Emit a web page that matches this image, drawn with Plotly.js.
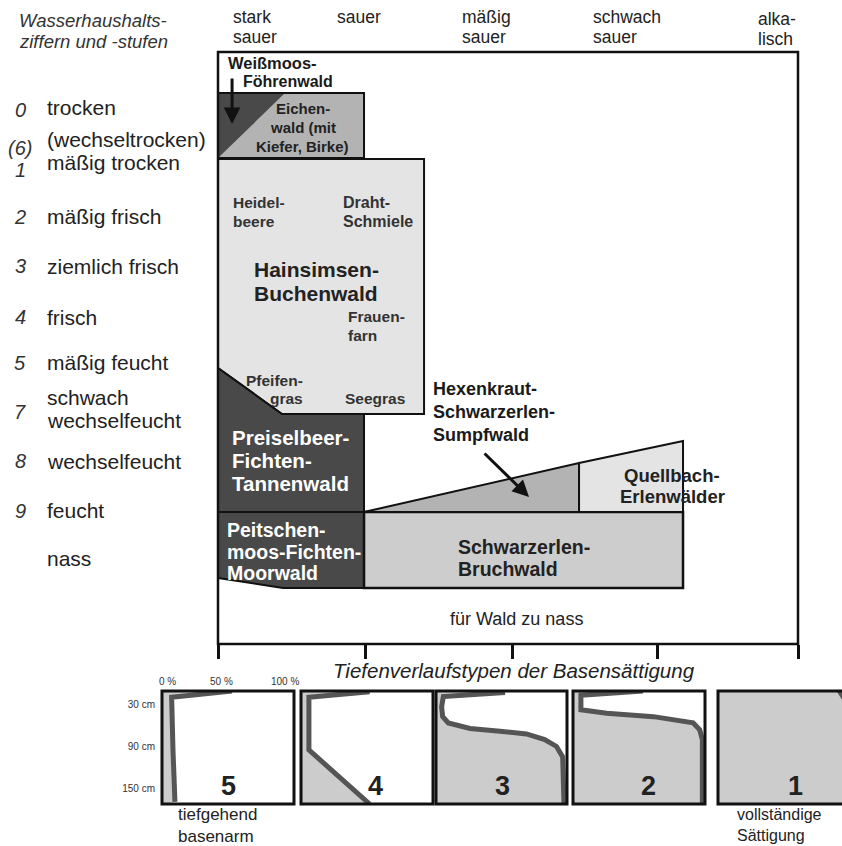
<!DOCTYPE html>
<html>
<head>
<meta charset="utf-8">
<script src="https://cdn.plot.ly/plotly-3.0.1.min.js"></script>
<style>html,body{margin:0;padding:0;background:#fff;}#chart{width:842px;height:846px;}</style>
</head>
<body>
<div id="chart"></div>
<script>
// ---------------- DATA ----------------
// x: Säurestufe (0 = stark sauer ... 4 = alkalisch), y: Wasserhaushaltsstufe (rows, 0 = trocken)
const phLabels = ["stark<br>sauer", "sauer", "mäßig<br>sauer", "schwach<br>sauer", "alka-<br>lisch"];
const phTicks = [0, 1.02, 2.03, 3.03, 4];

const waterNumbers = ["0", "(6)", "1", "2", "3", "4", "5", "7", "8", "9", ""];
const waterLabels = ["trocken", "(wechseltrocken)", "mäßig trocken", "mäßig frisch", "ziemlich frisch",
  "frisch", "mäßig feucht", "schwach<br>wechselfeucht", "wechselfeucht", "feucht", "nass"];
const waterLabelY = [0, 0.64, 1.1, 2.18, 3.16, 4.18, 5.08, 6.02, 7.06, 8.04, 9.0];
const waterNumberY = [0.04, 0.8, 1.24, 2.18, 3.16, 4.18, 5.1, 6.08, 7.06, 8.06, 9.0];

// forest community polygons (x = Säurestufe, y = Wasserstufe)
const eichenX = [0, 1.007, 1.007, 0];          const eichenY = [-0.30, -0.30, 1.00, 1.00];
const weissmoosX = [0, 0.462, 0];             const weissmoosY = [-0.30, -0.30, 1.00];
const hainsimsenX = [0, 1.421, 1.421, 0.441, 0]; const hainsimsenY = [1.02, 1.02, 6.12, 6.12, 5.20];
const preiselX = [0, 0.441, 1.007, 1.007, 0];    const preiselY = [5.20, 6.12, 6.12, 8.08, 8.08];
const peitschenX = [0, 1.007, 1.007, 0.448, 0];  const peitschenY = [8.08, 8.08, 9.60, 9.60, 9.40];
const bruchX = [1.007, 3.207, 3.207, 1.007];     const bruchY = [8.08, 8.08, 9.60, 9.60];
const hexenX = [1.007, 2.490, 2.490];            const hexenY = [8.08, 7.10, 8.08];
const quellX = [2.490, 3.207, 3.207, 2.490];     const quellY = [7.10, 6.66, 8.08, 8.08];

// Basensättigung (%) über Tiefe (cm), Typen 5..1
const typeNames = ["5", "4", "3", "2", "1"];
const sat5 = [53, 7.3, 8.3, 9.8];           const depth5 = [10, 19, 94, 170];
const sat4 = [52, 6, 6, 52];                const depth4 = [11, 19, 95, 173];
const sat3 = [52.7, 5.6, 4.3, 5.1, 9.4, 26, 48.9, 69, 83, 92, 96.7, 97.7];
const depth3 = [12, 18, 33, 47, 56, 64, 68, 72, 80, 90, 105, 172];
const sat2 = [53, 6, 6, 25.5, 61, 78.5, 91, 96, 98, 98];
const depth2 = [10, 16, 37, 42, 47, 52, 56, 66, 80, 172];
const sat1 = [92, 97, 97];                  const depth1 = [10, 25, 173];
const depthTicks = [30, 90, 150];
const depthTickText = ["30 cm", "90 cm", "150 cm"];

// ---------------- STYLE / LAYOUT ----------------
const W = 842, H = 846;
const FONT = "Liberation Sans, Arial, Helvetica, sans-serif";
const dark = "#494949", mid = "#b3b3b3", light = "#e4e4e4", bruchCol = "#cdcdcd", panelFill = "#cccccc";
const fx = p => p / W;
const fy = p => 1 - p / H;
const Y_UNIT_PX = 50; // one Wasserstufe row in pixels

function poly(xs, ys, fill, lw) {
  return {type: "scatter", mode: "lines", x: xs.concat([xs[0]]), y: ys.concat([ys[0]]),
    fill: "toself", fillcolor: fill, line: {color: lw > 0 ? "#111" : fill, width: lw},
    hoverinfo: "skip", showlegend: false, xaxis: "x", yaxis: "y"};
}
const traces = [
  poly(hainsimsenX, hainsimsenY, light, 2),
  poly(preiselX, preiselY, dark, 2),
  poly(peitschenX, peitschenY, dark, 2),
  poly(bruchX, bruchY, bruchCol, 2.5),
  poly(hexenX, hexenY, mid, 2),
  poly(quellX, quellY, light, 2),
  poly(eichenX, eichenY, mid, 0),
  poly(weissmoosX, weissmoosY, dark, 0),
  {type: "scatter", mode: "lines", x: eichenX.concat([eichenX[0]]), y: eichenY.concat([eichenY[0]]),
   line: {color: "#111", width: 2}, hoverinfo: "skip", showlegend: false, xaxis: "x", yaxis: "y"}
];

const panels = [
  {sat: sat5, depth: depth5, box: [162, 294]},
  {sat: sat4, depth: depth4, box: [301, 433]},
  {sat: sat3, depth: depth3, box: [436, 567]},
  {sat: sat2, depth: depth2, box: [573, 705]},
  {sat: sat1, depth: depth1, box: [718, 842]}
];
const panelTop = 691, panelBottom = 804;
const layout = {
  width: W, height: H, margin: {l: 0, r: 0, t: 0, b: 0},
  paper_bgcolor: "#fff", plot_bgcolor: "rgba(0,0,0,0)", showlegend: false,
  font: {family: FONT, color: "#222"},
  xaxis: {domain: [fx(218), fx(798)], range: [0, 4], anchor: "y", showgrid: false, zeroline: false,
    showticklabels: false, ticks: "outside", tickvals: phTicks, ticklen: 14, tickwidth: 3,
    tickcolor: "#111", fixedrange: true},
  yaxis: {domain: [fy(644), fy(52)], range: [10.72, -1.12], anchor: "x", showgrid: false,
    zeroline: false, showticklabels: false, ticks: "", fixedrange: true},
  shapes: [], annotations: []
};
layout.shapes.push({type: "rect", xref: "x domain", yref: "y domain", x0: 0, x1: 1, y0: 0, y1: 1,
  line: {color: "#111", width: 2.5}, layer: "above"});

panels.forEach((p, i) => {
  const n = i + 2, xa = "x" + n, ya = "y" + n;
  const last = i === panels.length - 1;
  const rangeMax = last ? 94 : 100;
  layout["xaxis" + n] = {domain: [fx(p.box[0]), fx(p.box[1])], range: [0, rangeMax], anchor: ya,
    showgrid: false, zeroline: false, showticklabels: false, ticks: "", fixedrange: true};
  layout["yaxis" + n] = {domain: [fy(panelBottom), fy(panelTop)], range: [173, 10], anchor: xa,
    showgrid: false, zeroline: false, fixedrange: true,
    showticklabels: i === 0, tickvals: depthTicks, ticktext: depthTickText, ticks: "",
    ticklabelstandoff: 6, tickfont: {size: 10, color: "#333", family: FONT}};
  const fxs = [0].concat(p.sat).concat([0]);
  const fys = [10].concat(p.depth).concat([173]);
  traces.push({type: "scatter", mode: "lines", x: fxs, y: fys, fill: "toself", fillcolor: panelFill,
    line: {width: 0, color: panelFill}, hoverinfo: "skip", xaxis: xa, yaxis: ya});
  traces.push({type: "scatter", mode: "lines", x: p.sat, y: p.depth,
    line: {color: "#555", width: 5}, hoverinfo: "skip", xaxis: xa, yaxis: ya});
  layout.shapes.push({type: "rect", xref: xa + " domain", yref: ya + " domain", x0: 0, x1: last ? 1.2 : 1,
    y0: 0, y1: 1, line: {color: "#111", width: 3}, layer: "above"});
});

function F(size, bold, color, italic) {
  return {family: FONT, size: size, color: color || "#222", weight: bold ? "bold" : "normal", style: italic ? "italic" : "normal"};
}
// multi-line label with explicit line spacing (px). y = centre of the block.
function label(text, o, spacingPx) {
  const parts = text.split("<br>");
  const yref = o.yref || "y";
  const unit = yref === "paper" ? -1 / H : 1 / Y_UNIT_PX; // data units per pixel downward
  const sp = spacingPx || 20;
  parts.forEach((t, k) => {
    const off = (k - (parts.length - 1) / 2) * sp * unit;
    layout.annotations.push(Object.assign({showarrow: false, xanchor: "left", yanchor: "middle", align: "left"},
      o, {text: t, y: o.y + off}));
  });
}

// header
label("Wasserhaushalts-<br>ziffern und -stufen", {xref: "paper", yref: "paper", x: fx(17), y: fy(31), font: F(18.5, false, "#333", true)}, 21);
const phX = [231, 335, 460, 591, 756];
const phY = [27, 17, 27, 27, 29];
phLabels.forEach((t, i) => label(t, {xref: "paper", yref: "paper", x: fx(phX[i]), y: fy(phY[i]), font: F(17.5, false, "#222")}, 20));

// water labels
waterLabels.forEach((t, i) => {
  label(t, {xref: "paper", yref: "y", x: fx(45), y: waterLabelY[i], font: F(21, false, "#222")}, 23);
  if (waterNumbers[i]) label(waterNumbers[i], {xref: "paper", yref: "y", x: fx(20), xanchor: "center", align: "center", y: waterNumberY[i], font: F(20, false, "#333", true)});
});

// region labels
label("Weißmoos-", {x: 0.055, y: -0.90, font: F(16.5, true, "#1a1a1a")});
label("Föhrenwald", {x: 0.159, y: -0.52, font: F(16, true, "#1a1a1a")});
label("Eichen-<br>wald (mit<br>Kiefer, Birke)", {x: 0.586, y: 0.40, xanchor: "center", align: "center", font: F(15, true, "#222")}, 19);
label("Heidel-<br>beere", {x: 0.090, y: 2.09, font: F(15.5, true, "#333")}, 19);
label("Draht-<br>Schmiele", {x: 0.845, y: 2.09, font: F(16, true, "#333")}, 19);
label("Hainsimsen-<br>Buchenwald", {x: 0.235, y: 3.46, font: F(21, true, "#222")}, 24);
label("Frauen-<br>farn", {x: 0.885, y: 4.36, font: F(15.5, true, "#333")}, 19);
label("Pfeifen-", {x: 0.180, y: 5.44, font: F(15.5, true, "#333")});
label("gras", {x: 0.345, y: 5.80, font: F(15.5, true, "#333")});
label("Seegras", {x: 0.862, y: 5.80, font: F(15.5, true, "#333")});
label("Preiselbeer-<br>Fichten-<br>Tannenwald", {x: 0.085, y: 7.04, font: F(20.5, true, "#fff")}, 23);
label("Peitschen-<br>moos-Fichten-<br>Moorwald", {x: 0.050, y: 8.87, font: F(19.5, true, "#fff")}, 21.5);
label("Hexenkraut-<br>Schwarzerlen-<br>Sumpfwald", {x: 1.470, y: 6.08, font: F(18, true, "#1a1a1a")}, 23);
label("Quellbach-<br>Erlenwälder", {x: 3.131, y: 7.56, xanchor: "center", align: "center", font: F(18.5, true, "#222")}, 21);
label("Schwarzerlen-<br>Bruchwald", {x: 1.642, y: 9.0, font: F(19.5, true, "#222")}, 22);
label("für Wald zu nass", {x: 2.062, y: 10.22, xanchor: "center", align: "center", font: F(18, false, "#222")});

// arrows
layout.annotations.push({x: 0.097, y: 0.32, ax: 0.097, ay: -0.62, axref: "x", ayref: "y", xref: "x", yref: "y",
  text: "", showarrow: true, arrowhead: 2, arrowsize: 1.1, arrowwidth: 3, arrowcolor: "#111"});
layout.annotations.push({x: 2.145, y: 7.78, ax: 1.828, ay: 6.88, axref: "x", ayref: "y", xref: "x", yref: "y",
  text: "", showarrow: true, arrowhead: 2, arrowsize: 1.1, arrowwidth: 3, arrowcolor: "#111"});

// bottom section
label("Tiefenverlaufstypen der Basensättigung", {xref: "paper", yref: "paper", x: fx(514), y: fy(670), xanchor: "center", font: F(20.5, false, "#222", true)});
[["0 %", 167], ["50 %", 221], ["100 %", 285]].forEach(t => label(t[0], {xref: "paper", yref: "paper", x: fx(t[1]), y: fy(681), xanchor: "center", font: F(10, false, "#333")}));
const numX = [228, 375, 502, 648, 795];
typeNames.forEach((t, i) => label(t, {xref: "paper", yref: "paper", x: fx(numX[i]), y: fy(786), xanchor: "center", font: F(27, true, "#222")}));
layout.annotations.push({xref: "paper", yref: "paper", x: fx(176), y: fy(825), xanchor: "left", yanchor: "middle", align: "left",
  showarrow: false, text: "tiefgehend<br>basenarm", font: F(17, false, "#222")});
layout.annotations.push({xref: "paper", yref: "paper", x: fx(735), y: fy(825), xanchor: "left", yanchor: "middle", align: "left",
  showarrow: false, text: "vollständige<br>Sättigung", font: F(16, false, "#222")});

Plotly.newPlot("chart", traces, layout, {staticPlot: true, displayModeBar: false});
</script>
</body>
</html>
